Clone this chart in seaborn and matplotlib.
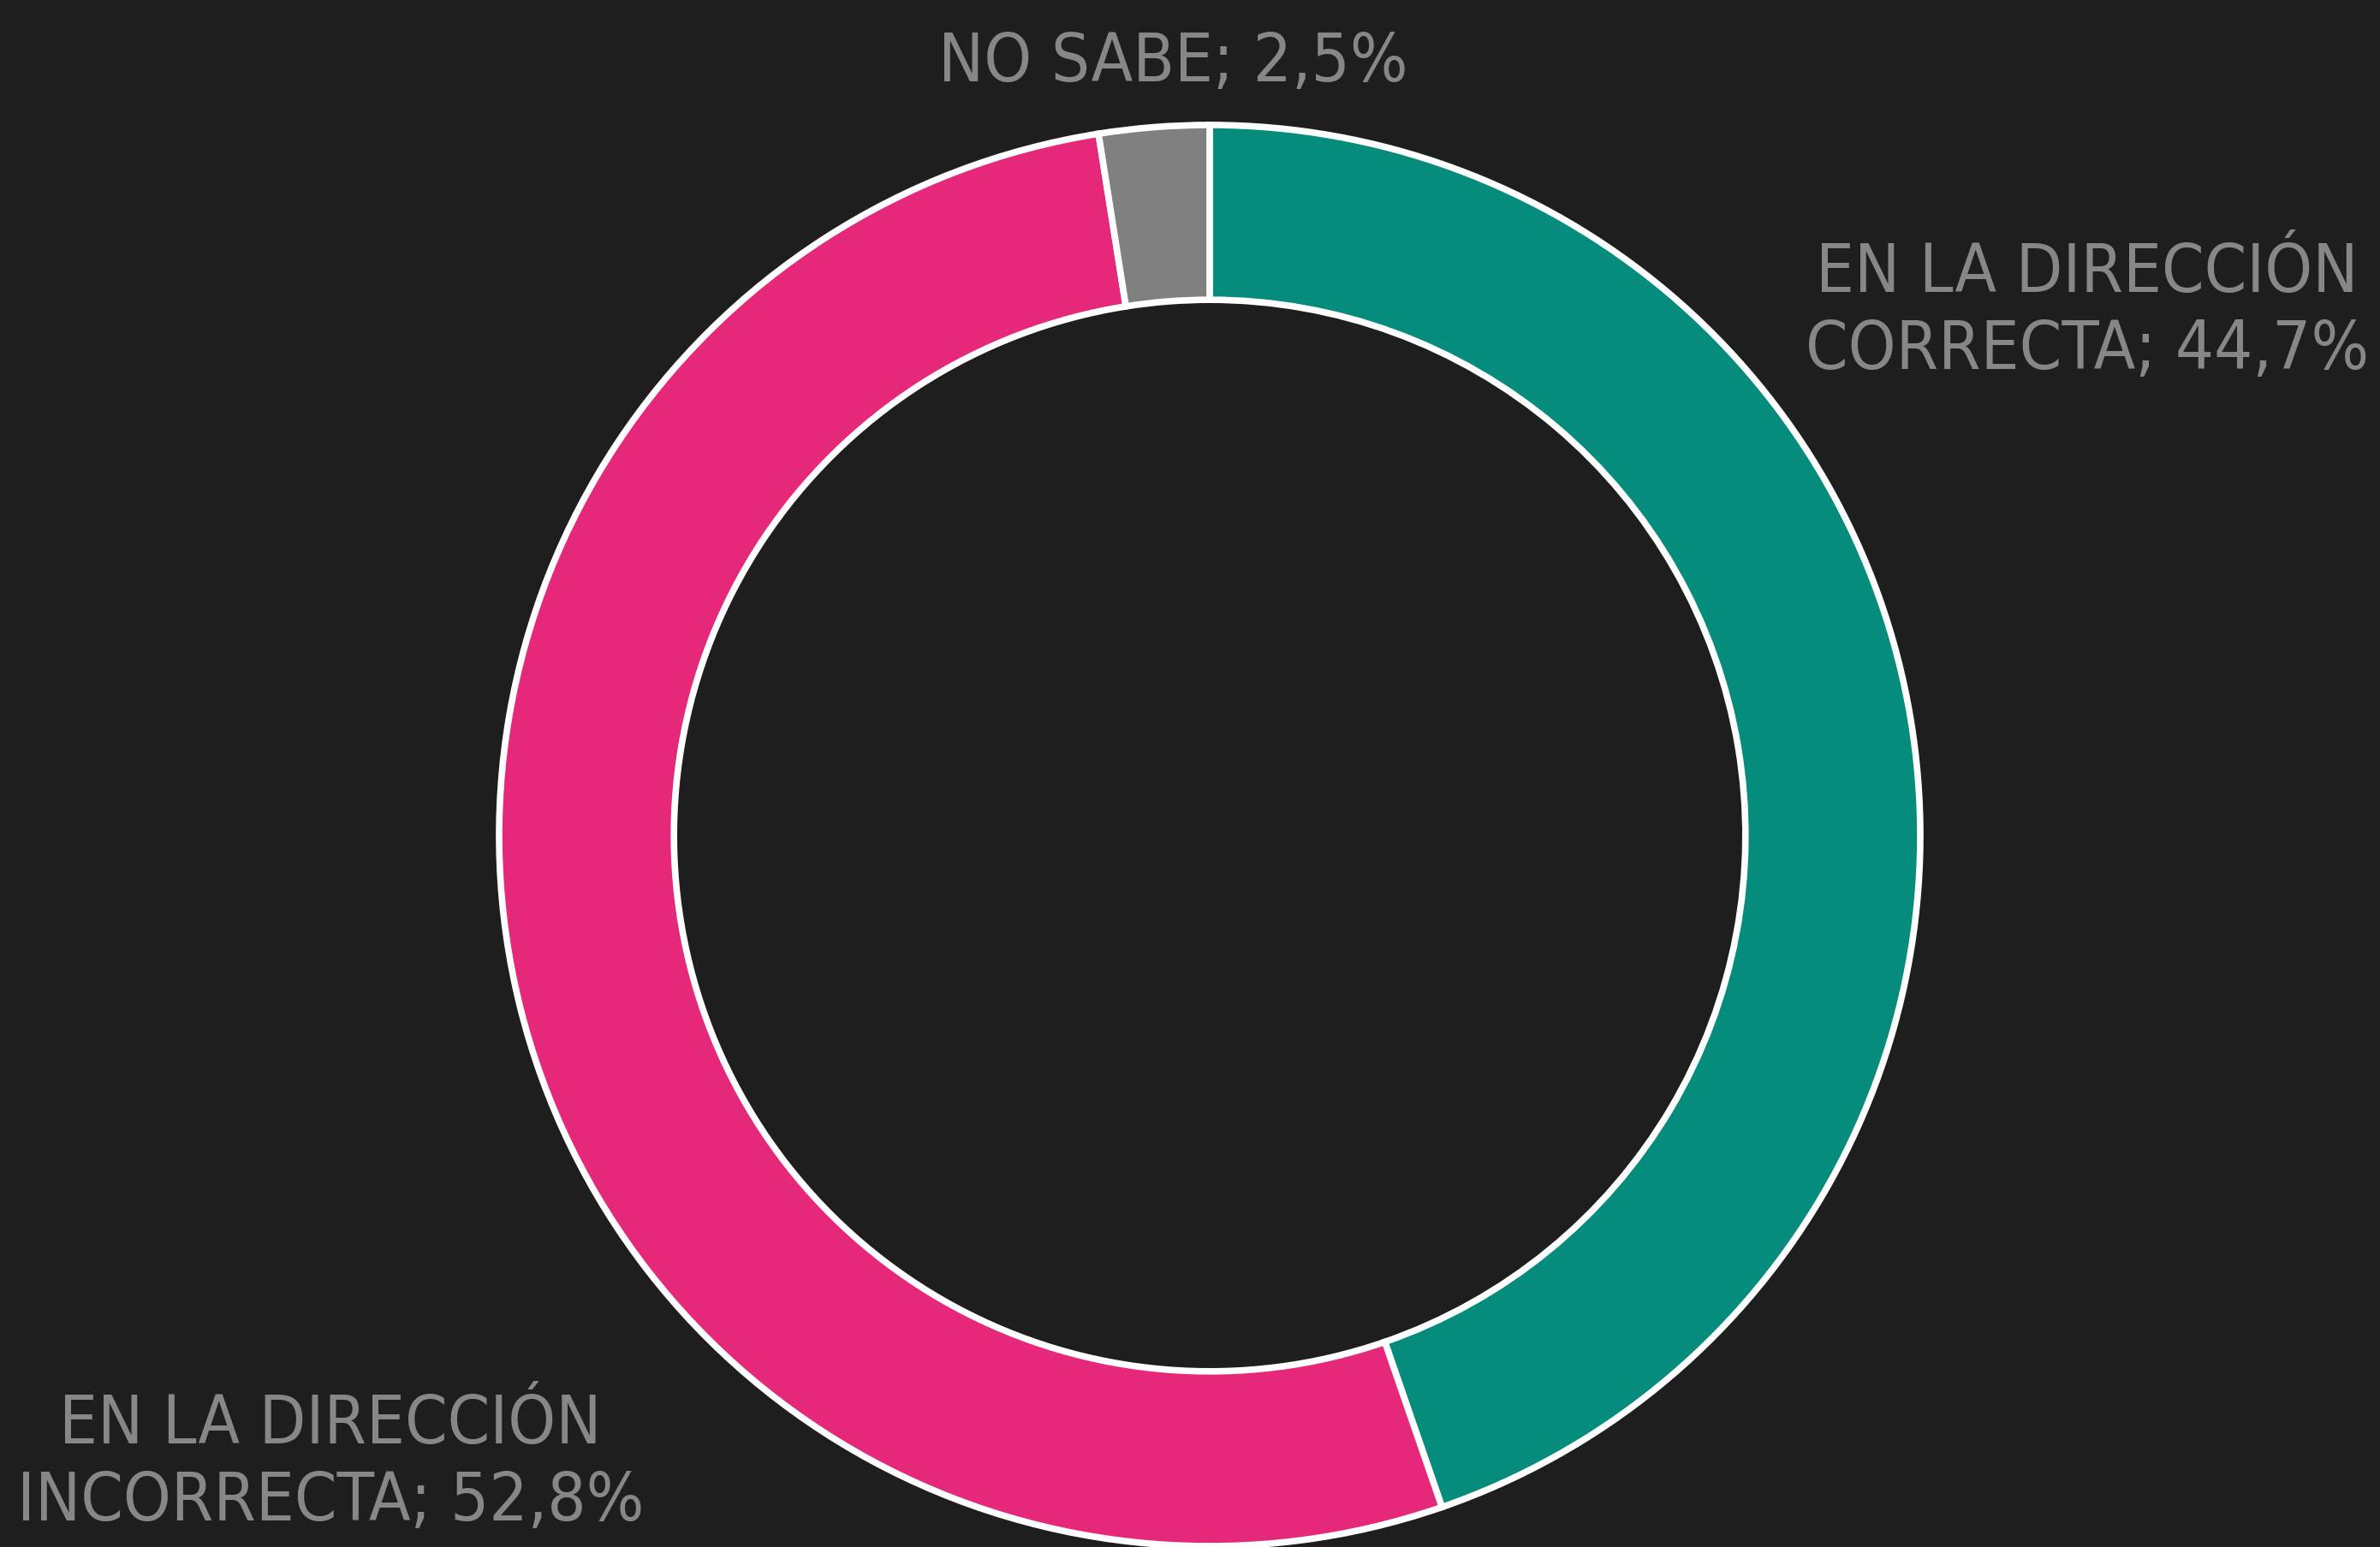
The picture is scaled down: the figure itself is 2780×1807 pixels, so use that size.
import seaborn as sns
import matplotlib
matplotlib.use('Agg')
import matplotlib.pyplot as plt
from matplotlib import font_manager

# data
categories = ['EN LA DIRECCIÓN\nCORRECTA', 'EN LA DIRECCIÓN\nINCORRECTA', 'NO SABE']
shares = [44.7, 52.8, 2.5]
colors = ['#068c7c', '#e6287a', '#808080']

sns.set_theme(style='dark', rc={'figure.facecolor': '#1e1e1e', 'axes.facecolor': '#1e1e1e'})

# pick a narrow face if one is installed
fonts = {(f.name, f.stretch) for f in font_manager.fontManager.ttflist}
family, stretch, size, ls = 'Roboto', 'normal', 52, 1.25
for name, st, sz, sp in [('DejaVu Sans', 'condensed', 57, 1.24),
                         ('Liberation Sans Narrow', 'condensed', 60, 1.2),
                         ('Liberation Sans Narrow', 'normal', 60, 1.2),
                         ('Roboto Condensed', 'normal', 60, 1.2)]:
    if (name, st) in fonts:
        family, stretch, size, ls = name, st, sz, sp
        break
plt.rcParams['font.family'] = [family, 'DejaVu Sans']

W, H = 2780, 1808
fig = plt.figure(figsize=(W / 100, H / 100), dpi=100)
ax = fig.add_axes([0, 0, 1, 1])

# donut, drawn clockwise from 12 o'clock
cx, cy, r = 1413, H - 977, 830
ax.pie(shares, colors=colors, startangle=90, counterclock=False,
       center=(cx, cy), radius=r, frame=True,
       wedgeprops=dict(width=r * 0.246, edgecolor='white', linewidth=5.5))
ax.set_xlim(0, W)
ax.set_ylim(0, H)
ax.set_aspect('equal')
ax.axis('off')

def label(i):
    return f"{categories[i]}; {shares[i]:.1f}%".replace('.', ',')

txt = dict(color='#878787', fontsize=size, fontstretch=stretch,
           va='center', multialignment='center', linespacing=ls)
ax.text(2767, H - 364, label(0), ha='right', **txt)
ax.text(20, H - 1709, label(1), ha='left', **txt)
ax.text(1370, H - 73, label(2), ha='center', **txt)

fig.savefig('out.png', dpi=100, facecolor=fig.get_facecolor())
